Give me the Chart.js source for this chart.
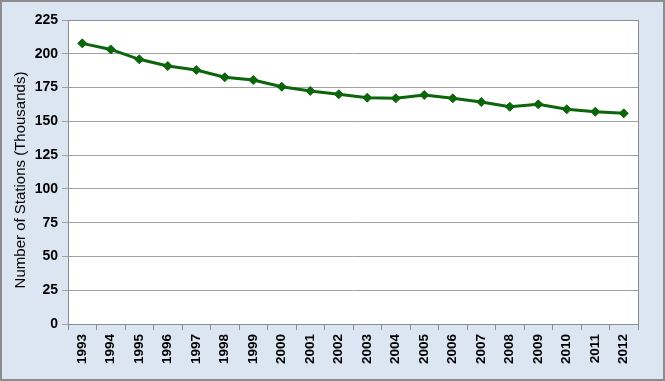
<!DOCTYPE html>
<html><head><meta charset="utf-8">
<script src="https://cdn.jsdelivr.net/npm/chart.js@4/dist/chart.umd.min.js"></script>
<style>
html,body{margin:0;padding:0;background:#dce6f2;}
#wrap{position:relative;width:665px;height:381px;box-sizing:border-box;border:2px solid #8c8c8c;background:#dce6f2;}
canvas{display:block;}
</style></head><body>
<div id="wrap"><canvas id="c" width="661" height="377"></canvas></div>
<script>
const years = ["1993","1994","1995","1996","1997","1998","1999","2000","2001","2002","2003","2004","2005","2006","2007","2008","2009","2010","2011","2012"];
const stations = [207.7,203.2,195.9,190.9,188.0,182.6,180.6,175.6,172.5,170.0,167.5,167.0,169.5,167.0,164.3,160.8,162.6,158.9,157.1,155.9];
const yTicks = [0,25,50,75,100,125,150,175,200,225];
const yTitle = 'Number of Stations (Thousands)';

const plotBg = {
  id:'plotBg',
  beforeDraw(chart){
    const {ctx, chartArea:a} = chart;
    ctx.save(); ctx.fillStyle='#ffffff'; ctx.fillRect(a.left,a.top,a.right-a.left,a.bottom-a.top); ctx.restore();
  },
  afterDraw(chart){
    const {ctx, chartArea:a} = chart;
    ctx.save(); ctx.strokeStyle='#8c8c8c'; ctx.lineWidth=1;
    ctx.strokeRect(Math.round(a.left)+0.5,Math.round(a.top)+0.5,Math.round(a.right-a.left),Math.round(a.bottom-a.top));
    // y axis title
    ctx.translate(19, (a.top+a.bottom)/2 + 8);
    ctx.rotate(-Math.PI/2);
    ctx.fillStyle='#000';
    ctx.font = '15px "Liberation Sans", Arial';
    ctx.textAlign='center'; ctx.textBaseline='middle';
    ctx.fillText(yTitle, 0, 0);
    ctx.restore();
  }
};

new Chart(document.getElementById('c'), {
  type:'line',
  data:{labels:years, datasets:[{
    data:stations, borderColor:'#0b650b', backgroundColor:'#0b650b', borderWidth:3,
    pointStyle:'rectRot', pointRadius:4.5, pointBorderWidth:1, tension:0, fill:false
  }]},
  options:{
    responsive:false, animation:false, devicePixelRatio:1,
    layout:{padding:{top:18,right:25,left:0,bottom:0}},
    plugins:{legend:{display:false}, tooltip:{enabled:false}},
    scales:{
      x:{
        offset:true,
        grid:{offset:true, drawOnChartArea:false, drawTicks:true, tickLength:6, color:'#8c8c8c'},
        border:{display:true,color:'#8c8c8c'},
        ticks:{minRotation:90,maxRotation:90,color:'#000',font:{family:'Liberation Sans, Arial',size:13.5,weight:'bold'},padding:4},
        afterFit(s){ s.height = 55; }
      },
      y:{
        min:0,max:225,
        afterBuildTicks(s){ s.ticks = yTicks.map(v=>({value:v})); },
        grid:{color:'#a0a0a0', tickLength:6, lineWidth:1},
        border:{display:true,color:'#8c8c8c'},
        ticks:{color:'#000',font:{family:'Liberation Sans, Arial',size:14,weight:'bold'},padding:4},
        afterFit(s){ s.width = 66; }
      }
    }
  },
  plugins:[plotBg]
});
</script>
</body></html>
